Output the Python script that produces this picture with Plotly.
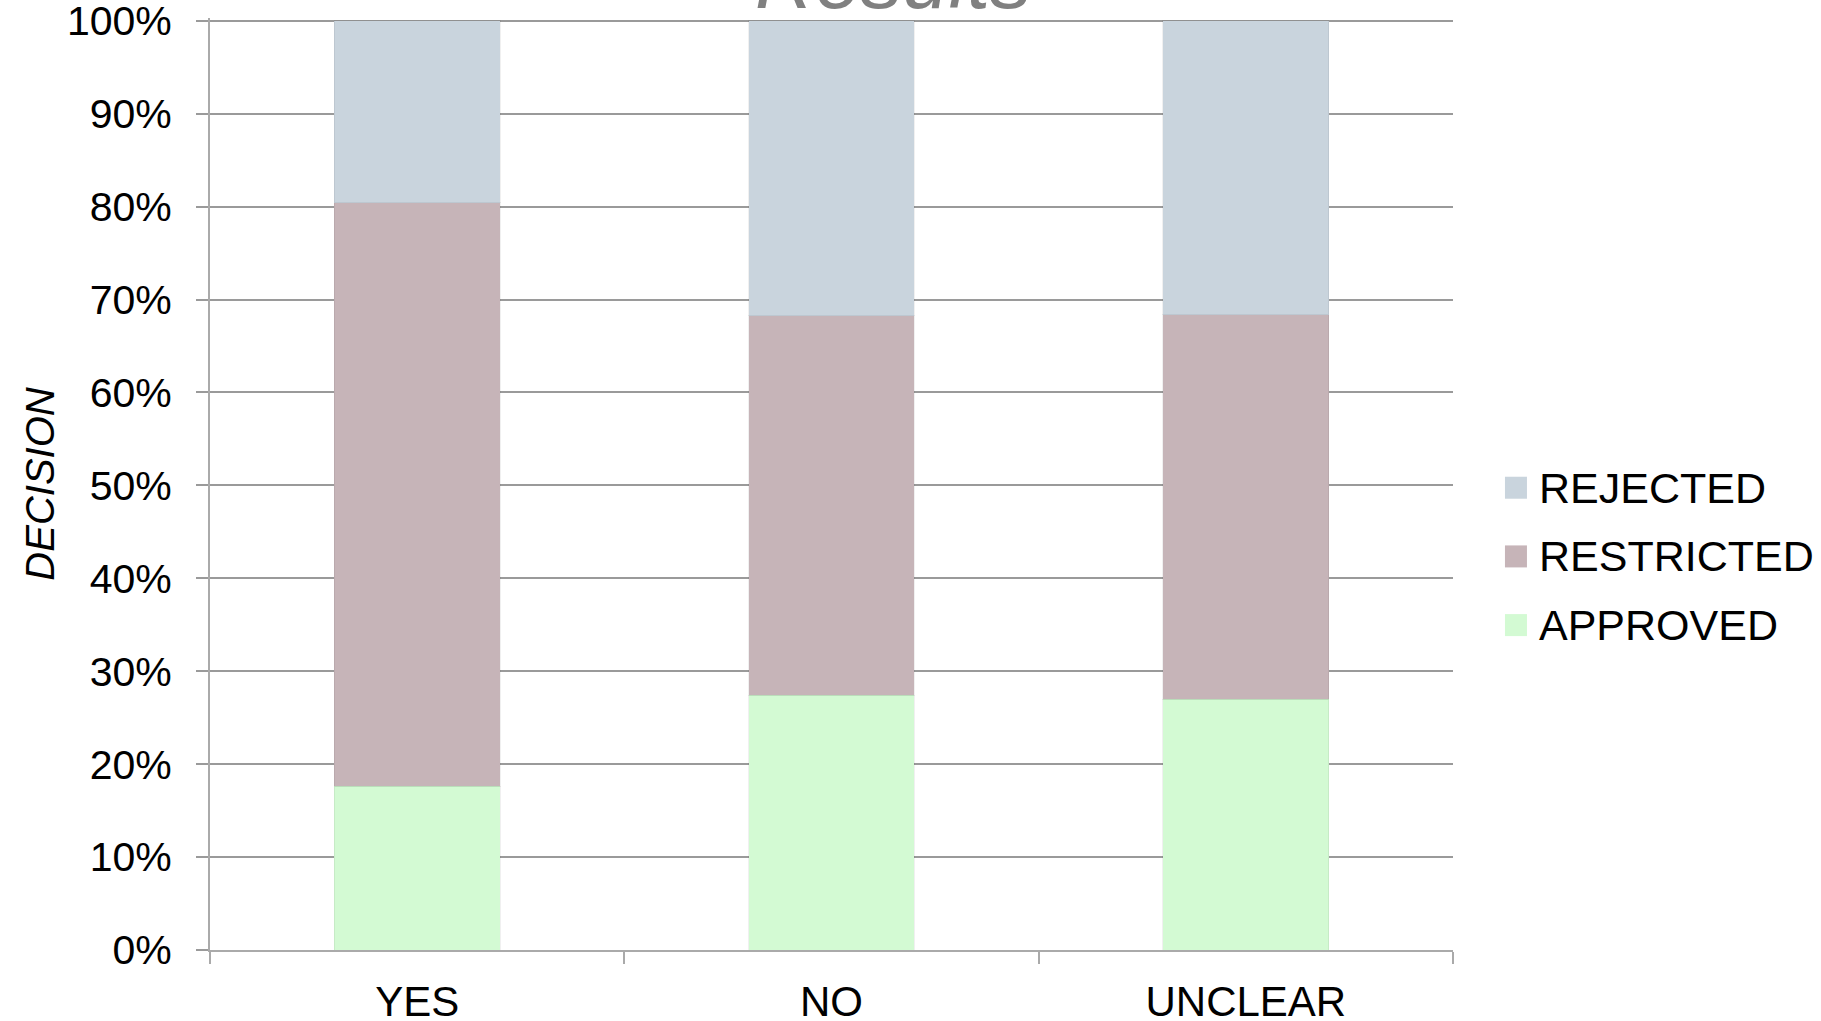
import plotly.graph_objects as go

# Share of decisions per category (percent of total, stacked to 100)
categories = ["YES", "NO", "UNCLEAR"]
approved = [17.6, 27.4, 27.0]
restricted = [62.8, 40.85, 41.35]
rejected = [19.6, 31.75, 31.65]

series_names = ["APPROVED", "RESTRICTED", "REJECTED"]
series_values = [approved, restricted, rejected]
series_colors = ["#D3FAD3", "#C6B4B8", "#C9D4DD"]
y_ticks = list(range(0, 101, 10))

FONT = "Liberation Sans, Arial, Helvetica, sans-serif"
GRID = "#9a9a9a"
AXIS = "#aaaaaa"

fig = go.Figure()
for name, vals, col in zip(series_names, series_values, series_colors):
    fig.add_trace(go.Bar(
        x=categories, y=vals, name=name,
        marker=dict(color=col, line=dict(width=1, color="rgba(0,0,0,0.06)")),
        showlegend=False,
        hoverinfo="x+y+name",
    ))

# Legend drawn as squares + labels, top entry is the last stacked series
legend_x = 1.0418
legend_y0 = 0.496
legend_step = 0.0737
for i, (name, col) in enumerate(reversed(list(zip(series_names, series_colors)))):
    yc = legend_y0 - i * legend_step
    fig.add_shape(type="rect", xref="paper", yref="paper",
                  x0=legend_x, x1=legend_x + 0.0177,
                  y0=yc - 0.0118, y1=yc + 0.0118,
                  fillcolor=col, line=dict(width=0))
    fig.add_annotation(xref="paper", yref="paper", x=legend_x + 0.0255, y=yc,
                       text=name, showarrow=False, xanchor="left", yanchor="middle",
                       font=dict(family=FONT, size=43, color="#000000"))

# Title, mostly above the visible page edge
fig.add_annotation(xref="paper", yref="paper", x=0.5495, y=1.0, yanchor="bottom",
                   yshift=-10, text="<i>Results</i>", showarrow=False,
                   font=dict(family=FONT, size=83, color="#808080"))

fig.update_layout(
    barmode="stack",
    bargap=0.6,
    width=1821, height=1021,
    margin=dict(l=210, r=368, t=18, b=71, autoexpand=False),
    paper_bgcolor="white", plot_bgcolor="white",
    font=dict(family=FONT, color="#000000"),
    xaxis=dict(
        type="category",
        automargin=False,
        showgrid=False,
        showline=True, linecolor=AXIS, linewidth=2,
        ticks="outside", tickson="boundaries", ticklen=12, tickwidth=1.5, tickcolor=AXIS,
        tickfont=dict(family=FONT, size=42, color="#000000"),
        ticklabelstandoff=14,
        ticklabeloverflow="allow",
    ),
    yaxis=dict(
        automargin=False,
        range=[0, 100.3],
        tickmode="array", tickvals=y_ticks, ticktext=[f"{v}%" for v in y_ticks],
        showgrid=True, gridcolor=GRID, gridwidth=1.5,
        showline=True, linecolor=AXIS, linewidth=2,
        ticks="outside", ticklen=12, tickwidth=1.5, tickcolor=GRID,
        tickfont=dict(family=FONT, size=41, color="#000000"),
        ticklabelstandoff=16,
        ticklabeloverflow="allow",
        zeroline=False,
        title=dict(text="<i>DECISION</i>", font=dict(family=FONT, size=40, color="#000000"),
                   standoff=0),
    ),
)

fig.write_html("out.html")
